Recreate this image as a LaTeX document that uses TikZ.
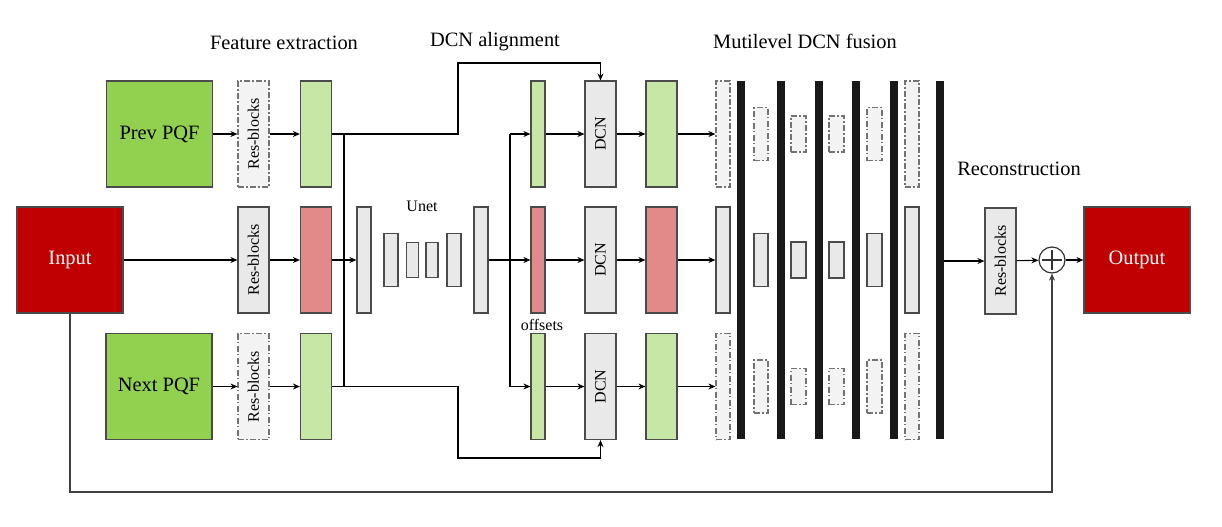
\documentclass[tikz,border=0pt]{standalone}
\usepackage{fontspec}
\setmainfont{Liberation Serif}
\usetikzlibrary{arrows.meta}

\definecolor{pqfgreen}{RGB}{146,208,80}
\definecolor{featgreen}{RGB}{198,231,166}
\definecolor{inred}{RGB}{192,0,0}
\definecolor{featred}{RGB}{226,137,137}
\definecolor{blockgray}{RGB}{233,233,233}
\definecolor{ghostgray}{RGB}{243,243,243}
\definecolor{edgegray}{RGB}{75,75,75}

\tikzset{
  block/.style={rectangle, draw=edgegray, line width=0.6pt, inner sep=0pt, fill=blockgray},
  ghost/.style={block, draw=black!55, fill=ghostgray, dash pattern=on 3pt off 1.2pt on 0.6pt off 1.2pt},
  frame/.style={block, minimum width=53pt, minimum height=53pt, font=\fontsize{10.2}{12}\selectfont},
  slab/.style={minimum width=15.5pt, minimum height=53pt},
  thin/.style={minimum width=7pt, minimum height=53pt},
  bar/.style={rectangle, fill=black!90, inner sep=0pt, minimum width=4pt, minimum height=179pt},
  small/.style={font=\fontsize{8}{9.6}\selectfont},
  title/.style={anchor=base, font=\fontsize{10.2}{12}\selectfont},
  link/.style={line width=0.55pt},
}

\begin{document}
\begin{tikzpicture}[x=0.5pt, y=-0.5pt, >={Stealth[length=3.5pt,width=3pt]}]
\useasboundingbox (0,0) rectangle (1222,526);

\node [frame, fill=pqfgreen] (prev) at (159.5,134) {Prev PQF};
\node [frame, fill=inred, text=white] (input) at (70,260) {Input};
\node [frame, fill=pqfgreen] (next) at (159,386.5) {Next PQF};

\foreach \r/\y/\s in {top/134/ghost, mid/260/block, bot/386.5/ghost}
  \node [\s, slab, small] (res-\r) at (253.5,\y) {\rotatebox{90}{Res-blocks}};

\foreach \r/\y/\c in {top/134/featgreen, mid/260/featred, bot/386.5/featgreen} {
  \node [block, slab, fill=\c] (feat-\r) at (316,\y) {};
  \node [block, thin, fill=\c] (off-\r) at (538,\y) {};
  \node [block, slab, small] (dcn-\r) at (600.5,\y) {\rotatebox{90}{DCN}};
  \node [block, slab, fill=\c] (align-\r) at (661.5,\y) {};
}

\foreach \x/\w/\h [count=\i] in {364/7/53, 391/7/26.5, 412.5/6/17.5, 432/6/17.5, 454/7/26.5, 481/7/53}
  \node [block, minimum width=\w pt, minimum height=\h pt] (unet-\i) at (\x,260) {};

\foreach \x/\w/\h [count=\i] in {723/7/53, 761/7/26.5, 798.5/7.5/18, 836.5/7.5/18, 874.5/7.5/26.5, 912/7/53} {
  \node [ghost, minimum width=\w pt, minimum height=\h pt] (fuse-\i-top) at (\x,134) {};
  \node [block, minimum width=\w pt, minimum height=\h pt] (fuse-\i-mid) at (\x,260) {};
  \node [ghost, minimum width=\w pt, minimum height=\h pt] (fuse-\i-bot) at (\x,386.5) {};
}

\foreach \x [count=\i] in {741, 781, 818.5, 856, 894, 939.5}
  \node [bar] (bar-\i) at (\x,260) {};

\node [block, slab, small] (recon) at (1000.5,261) {\rotatebox{90}{Res-blocks}};
\node [circle, draw=black!80, line width=0.6pt, fill=white, minimum size=13pt, inner sep=0pt,
  path picture={
    \draw [line width=0.8pt, shorten <=1.5pt, shorten >=1.5pt]
      (path picture bounding box.north) -- (path picture bounding box.south);
    \draw [line width=0.8pt, shorten <=1.5pt, shorten >=1.5pt]
      (path picture bounding box.west) -- (path picture bounding box.east);
  }] (plus) at (1052,260) {};
\node [frame, fill=inred, text=white] (output) at (1137,260) {Output};

\node [title] (feat-title) at (284,49) {Feature extraction};
\node [title] (align-title) at (495,46) {DCN alignment};
\node [title] (fuse-title) at (805,48) {Mutilevel DCN fusion};
\node [title] (recon-title) at (1019,175) {Reconstruction};
\node [small, anchor=base] (unet-label) at (422,211) {Unet};
\node [small, anchor=base] (off-label) at (542,330) {offsets};

\coordinate (split-top) at (344,134);
\coordinate (split-bot) at (344,386.5);
\coordinate (fork-top) at (510,134);
\coordinate (fork-bot) at (510,386.5);
\coordinate (up-turn) at (458,63);
\coordinate (down-turn) at (458,458);
\coordinate (skip-line) at (0,492);

\draw [link, ->] (prev) -- (res-top);
\draw [link, ->] (input) -- (res-mid);
\draw [link, ->] (next) -- (res-bot);

\foreach \r in {top,mid,bot} {
  \draw [link, ->] (res-\r) -- (feat-\r);
  \draw [link, ->] (off-\r) -- (dcn-\r);
  \draw [link, ->] (dcn-\r) -- (align-\r);
  \draw [link, ->] (align-\r) -- (fuse-1-\r);
}

\draw [link] (split-top) -- (split-bot);
\draw [link, ->] (feat-mid) -- (unet-1);
\draw [link, ->] (feat-top.east) -| (up-turn) -| (dcn-top.north);
\draw [link, ->] (feat-bot.east) -| (down-turn) -| (dcn-bot.south);

\draw [link, ->] (unet-6) -- (off-mid);
\draw [link] (fork-top) -- (fork-bot);
\draw [link, ->] (fork-top) -- (off-top);
\draw [link, ->] (fork-bot) -- (off-bot);

\draw [link, ->] (bar-6.east |- recon) -- (recon);
\draw [link, ->] (recon) -- (plus);
\draw [link, ->] (plus) -- (output);
\draw [link, ->, draw=black!75] (input.south) |- (plus.south |- skip-line) -- (plus.south);

\end{tikzpicture}
\end{document}
